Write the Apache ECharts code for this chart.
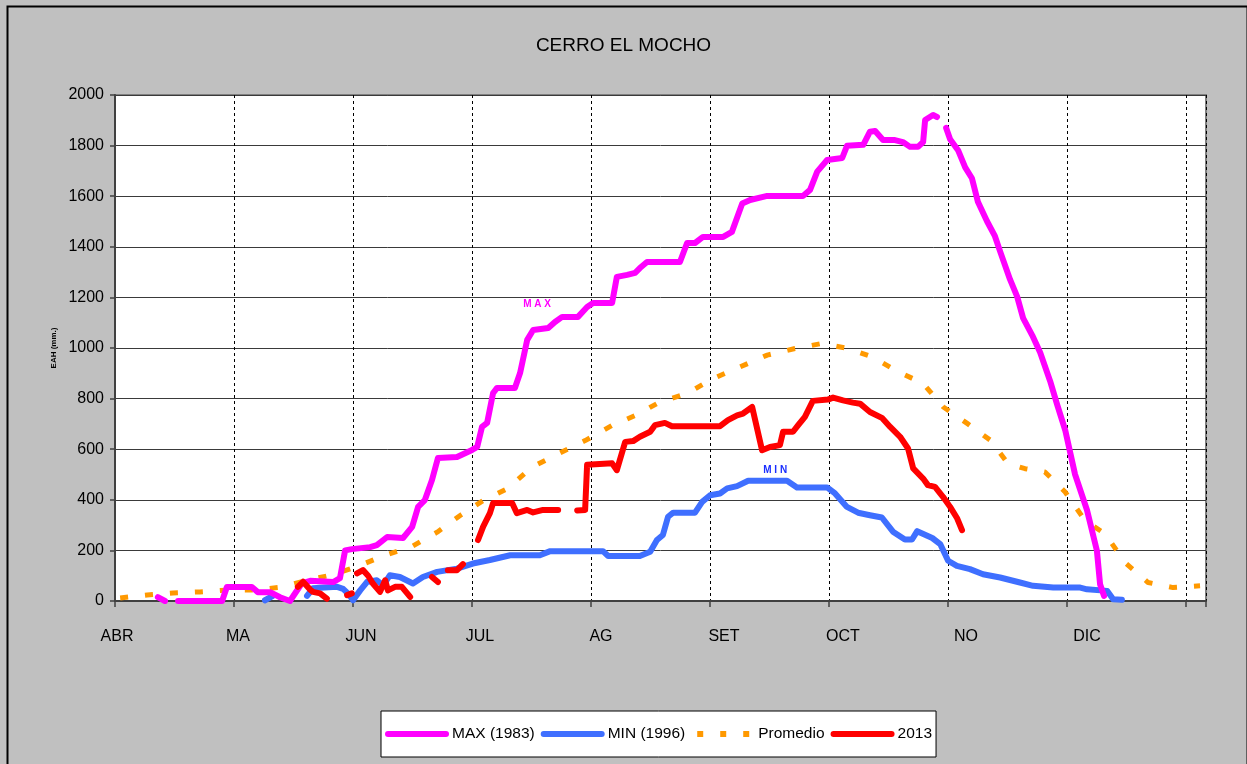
<!DOCTYPE html>
<html>
<head>
<meta charset="utf-8">
<script src="https://cdn.jsdelivr.net/npm/echarts@6/dist/echarts.min.js"></script>
<style>
html,body{margin:0;padding:0;background:#c0c0c0;}
#chart{width:1247px;height:764px;}
</style>
</head>
<body>
<div id="chart"></div>
<script>
// x = days since 1 April; null = gap in the curve
const months = ['ABR','MA','JUN','JUL','AG','SET','OCT','NO','DIC'];
const monthLabelDays = [0.5, 31, 62, 92, 122.5, 153.5, 183.5, 214.5, 245];
const yTicks = [0,200,400,600,800,1000,1200,1400,1600,1800,2000];

const maxSeries = [
  [10.8,15],[12.6,0], null,
  [15.9,0],[27.0,0],[28.2,55],[34.5,55],[36.0,35],[39.1,35],[41.6,15],[44.1,0],
  [47.1,70],[49.2,80],[55.0,75],[56.7,90],[58.0,200],[59.7,205],[64.3,213],[66.0,221],
  [68.6,253],[72.6,249],[74.9,293],[76.4,372],[78.1,399],[79.9,478],[81.4,565],[86.2,569],
  [90.0,597],[91.3,609],[92.5,688],[93.8,704],[95.3,822],[96.3,842],[100.8,842],[102.1,901],
  [103.9,1032],[105.4,1071],[109.2,1079],[110.9,1103],[112.7,1123],[116.7,1123],[119.0,1162],
  [120.5,1178],[125.3,1178],[126.5,1281],[129.1,1289],[131.1,1297],[132.3,1316],[134.1,1340],
  [142.4,1340],[144.2,1415],[146.2,1415],[148.2,1439],[153.3,1439],[155.5,1459],[158.1,1571],
  [160.1,1585],[164.4,1601],[173.4,1601],[175.2,1625],[177.0,1697],[179.5,1743],[183.3,1751],
  [184.5,1799],[188.6,1803],[190.3,1855],[191.6,1858],[193.6,1822],[196.6,1822],[198.6,1814],
  [200.4,1795],[202.4,1795],[203.7,1814],[204.2,1901],[206.2,1921],[207.2,1913], null,
  [209.5,1870],[210.5,1825],[212.5,1782],[214.3,1714],[216.0,1671],[217.5,1578],[219.8,1501],
  [221.8,1442],[223.1,1382],[225.6,1271],[227.4,1203],[228.9,1118],[231.2,1050],[233.2,982],
  [235.7,870],[237.5,775],[239.5,676],[242.0,500],[245.0,360],[247.5,199],[248.3,66],[249.3,20]
];

const minSeries = [
  [37.8,3],[39.8,20], null,
  [48.4,20],[49.9,50],[51.7,52],[56.0,56],[57.5,48],[58.7,30],[60.0,3],[61.8,42],[63.5,75],
  [66.0,82],[67.6,62],[69.3,102],[71.8,95],[75.1,69],[77.6,95],[81.2,115],[86.2,128],[90.2,148],
  [94.5,162],[99.6,181],[107.1,181],[109.7,197],[117.2,197],[123.0,197],[124.3,178],[132.3,178],
  [134.9,195],[136.6,241],[138.1,261],[139.4,333],[140.7,349],[146.2,349],[148.0,392],[150.0,418],
  [152.5,425],[154.3,445],[156.8,454],[159.6,475],[169.4,475],[171.9,449],[179.5,449],[181.5,425],
  [184.5,372],[187.3,349],[190.3,339],[193.3,330],[196.1,274],[199.1,243],[200.9,243],[202.2,276],
  [206.0,249],[208.0,225],[210.0,159],[212.2,139],[215.5,126],[218.8,106],[223.1,93],[228.1,73],
  [231.4,60],[236.5,53],[243.3,53],[245.0,46],[250.1,40],[251.6,7],[253.8,5]
];

const promedio = [
  [1.3,12],[8.1,24],[14.6,32],[21.4,36],[28.2,43],[34.8,43],[42.1,55],[48.4,82],[55.0,104],
  [61.8,141],[68.1,181],[74.9,216],[81.2,272],[87.0,338],[92.8,397],[98.8,443],[105.1,529],
  [111.7,582],[118.5,634],[125.3,694],[131.1,733],[137.4,787],[144.2,820],[150.7,879],[157.5,925],
  [164.4,972],[171.4,998],[178.2,1018],[184.8,998],[190.8,965],[197.4,906],[203.7,860],[208.7,768],
  [214.8,702],[220.6,636],[225.1,543],[229.4,523],[234.4,510],[239.5,431],[244.5,318],[249.6,265],
  [254.6,152],[260.4,73],[266.7,53],[273.5,60]
];

const y2013 = [
  [46.1,56],[47.4,76],[49.2,45],[49.9,36],[51.7,30],[53.4,9], null,
  [58.5,23],[59.7,30], null,
  [61.0,109],[62.5,122],[63.8,100],[65.0,69],[66.8,36],[68.1,82],[68.8,42],[70.6,56],[72.3,56],[74.4,16], null,
  [79.9,95],[81.4,75], null,
  [83.9,122],[86.2,122],[87.7,146], null,
  [91.5,241],[92.8,294],[94.5,347],[95.3,387],[100.1,387],[101.3,347],[103.9,360],[105.4,350],
  [107.9,360],[111.7,360], null,
  [116.5,358],[118.5,360],[119.0,539],[125.3,544],[126.5,517],[128.6,629],[130.6,632],[132.3,649],
  [134.9,669],[136.1,695],[138.6,704],[140.4,691],[152.5,691],[154.5,715],[156.8,734],[158.3,741],
  [160.6,767],[163.1,596],[165.1,609],[167.6,616],[168.4,669],[170.9,669],[172.2,695],[173.9,728],
  [175.9,791],[179.7,796],[181.0,804],[183.5,793],[186.0,784],[187.8,780],[190.3,747],[193.3,724],
  [195.4,688],[197.9,649],[199.9,603],[201.2,524],[203.7,484],[204.9,458],[206.7,451],[208.7,412],
  [210.5,372],[212.3,326],[213.5,280]
];

const maxLabelAt = [106.4, 1174];
const minLabelAt = [166.4, 518];

const FONT = "'Liberation Sans', Arial, sans-serif";
const prep = arr => arr.map(p => p === null ? ['-','-'] : p);

const LINE_ICON = 'path://M3,0 H61 A3,3 0 0 1 61,6 H3 A3,3 0 0 1 3,0 Z';
const DASH_ICON = 'path://M6,0 H12 V6 H6 Z M29,0 H35 V6 H29 Z M52,0 H58 V6 H52 Z M0,0 H0.01 V6 H0 Z M63.99,0 H64 V6 H63.99 Z';

const chart = echarts.init(document.getElementById('chart'), null, {renderer:'canvas'});
chart.setOption({
  animation: false,
  backgroundColor: '#c0c0c0',
  textStyle: {fontFamily: FONT},
  graphic: [{
    type: 'rect', left: 5, top: 4, z: -10,
    shape: {width: 1240, height: 790},
    style: {fill: 'none', stroke: '#000', lineWidth: 2}
  }],
  title: {
    text: 'CERRO EL MOCHO', left: 'center', top: 36, padding: 0,
    textStyle: {fontFamily: FONT, fontSize: 19, fontWeight: 'normal', color: '#000'}
  },
  legend: {
    left: 381, top: 711, padding: [15, 4, 15, 4],
    backgroundColor: '#fff', borderColor: '#000', borderWidth: 1,
    itemWidth: 64, itemHeight: 6, itemGap: 6,
    textStyle: {fontFamily: FONT, fontSize: 15.5, color: '#000', padding: [0, 0, 0, -2]},
    data: [
      {name: 'MAX (1983)', icon: LINE_ICON},
      {name: 'MIN (1996)', icon: LINE_ICON},
      {name: 'Promedio', icon: DASH_ICON},
      {name: '2013', icon: LINE_ICON}
    ]
  },
  grid: {
    left: 115, top: 95, right: 41, bottom: 163,
    show: true, backgroundColor: '#fff', borderColor: '#808080', borderWidth: 2
  },
  xAxis: [{
    type: 'value', min: 0, max: 275, interval: 30,
    axisLine: {show: true, lineStyle: {color: '#404040', width: 2}},
    axisTick: {show: true, length: 6, lineStyle: {color: '#404040', width: 1.5}},
    axisLabel: {show: false},
    splitLine: {show: true, lineStyle: {color: '#000', type: [3, 3], width: 1}}
  }, {
    type: 'value', min: 0, max: 275, position: 'bottom',
    axisLine: {show: false}, axisTick: {show: false}, splitLine: {show: false},
    axisLabel: {
      show: true, customValues: monthLabelDays, margin: 28,
      fontFamily: FONT, fontSize: 16, color: '#000',
      formatter: v => { const i = monthLabelDays.indexOf(v); return i >= 0 ? months[i] : ''; }
    }
  }],
  yAxis: {
    type: 'value', min: yTicks[0], max: yTicks[yTicks.length-1], interval: 200,
    name: 'EAH (mm.)', nameLocation: 'middle', nameGap: 52,
    nameTextStyle: {fontFamily: FONT, fontSize: 8, fontWeight: 'bold', color: '#000'},
    axisLine: {show: true, lineStyle: {color: '#404040', width: 2}},
    axisTick: {show: true, length: 5, lineStyle: {color: '#404040', width: 1.5}},
    axisLabel: {fontFamily: FONT, fontSize: 16, color: '#000', margin: 11, formatter: v => String(v)},
    splitLine: {show: true, lineStyle: {color: '#3a3a3a', width: 1}}
  },
  series: [{
    name: 'MAX (1983)', type: 'line', symbol: 'none', connectNulls: false,
    data: prep(maxSeries),
    lineStyle: {color: '#ff00ff', width: 6, cap: 'round', join: 'round'},
    itemStyle: {color: '#ff00ff'}, z: 3,
    markPoint: {
      symbol: 'circle', symbolSize: 0, silent: true,
      data: [{coord: maxLabelAt, value: 'MAX'}],
      label: {show: true, position: 'inside', formatter: 'M A X', color: '#ff00ff', fontFamily: FONT, fontSize: 10, fontWeight: 'bold'}
    }
  }, {
    name: 'MIN (1996)', type: 'line', symbol: 'none', connectNulls: false,
    data: prep(minSeries),
    lineStyle: {color: '#3f6fff', width: 6, cap: 'round', join: 'round'},
    itemStyle: {color: '#3f6fff'}, z: 2,
    markPoint: {
      symbol: 'circle', symbolSize: 0, silent: true,
      data: [{coord: minLabelAt, value: 'MIN'}],
      label: {show: true, position: 'inside', formatter: 'M I N', color: '#1a2fff', fontFamily: FONT, fontSize: 10, fontWeight: 'bold'}
    }
  }, {
    name: 'Promedio', type: 'line', symbol: 'none', connectNulls: false,
    data: prep(promedio),
    lineStyle: {color: '#ff9900', width: 5, type: [8, 17], cap: 'butt'},
    itemStyle: {color: '#ff9900'}, z: 1
  }, {
    name: '2013', type: 'line', symbol: 'none', connectNulls: false,
    data: prep(y2013),
    lineStyle: {color: '#ff0000', width: 6, cap: 'round', join: 'round'},
    itemStyle: {color: '#ff0000'}, z: 4
  }]
});
</script>
</body>
</html>
